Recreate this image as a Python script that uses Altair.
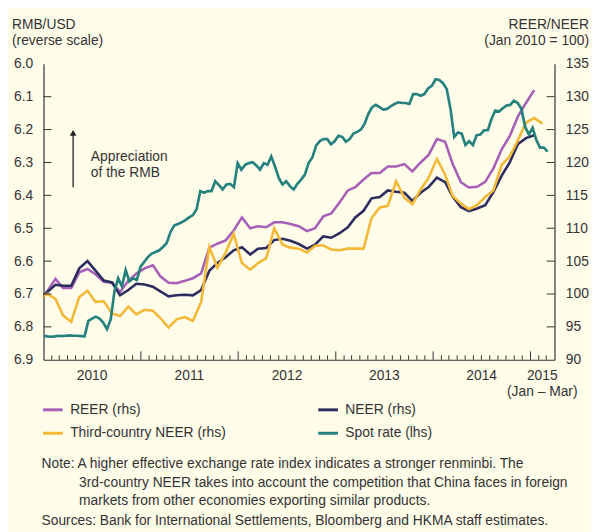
import altair as alt
import pandas as pd

# ---------------- data ----------------
month_start = "2009-12-01"   # monthly indices, plotted at mid-month, Dec 2009 ..
reer = [98.7, 100.4, 102.3, 100.9, 100.9, 103.3, 103.8, 103.0, 101.85, 101.7, 100.3,
        102.0, 103.1, 103.9, 104.35, 102.7, 101.7, 101.65, 102.0, 102.4, 103.15,
        107.05, 107.65, 108.15, 109.65, 111.65, 110.0, 110.3, 110.15, 110.9, 110.9,
        110.65, 110.3, 109.55, 110.0, 111.8, 112.25, 113.9, 115.75, 116.25, 117.4,
        118.4, 118.4, 119.4, 119.4, 119.75, 118.65, 120.0, 121.15, 123.55, 123.15,
        119.8, 117.0, 116.2, 116.3, 117.05, 119.1, 122.0, 124.0, 127.0, 129.05, 131.0]
neer = [98.8, 100.3, 101.4, 101.25, 101.25, 103.9, 105.0, 103.55, 102.05, 101.75, 99.8,
        100.6, 101.55, 101.45, 101.1, 100.4, 99.65, 99.8, 99.9, 99.8, 100.6,
        103.55, 104.7, 105.6, 106.65, 107.1, 106.0, 106.9, 107.0, 108.2, 108.4,
        108.1, 107.6, 106.9, 107.5, 108.75, 108.55, 109.25, 110.15, 111.65, 112.65,
        114.55, 114.75, 115.75, 115.55, 115.4, 114.15, 115.4, 116.25, 117.7, 117.0,
        114.8, 113.2, 112.6, 113.0, 113.5, 115.5, 118.0, 120.0, 122.8, 123.7, 124.15]
third = [99.1, 100.0, 99.25, 96.75, 95.75, 99.55, 100.5, 98.8, 98.9, 97.05, 96.65,
         98.1, 96.9, 97.6, 97.45, 96.35, 94.9, 96.15, 96.5, 95.9, 98.8,
         107.15, 104.0, 106.3, 109.15, 104.7, 103.7, 104.7, 105.4, 110.0, 107.5,
         107.05, 106.9, 106.3, 107.35, 107.4, 106.75, 106.65, 106.9, 106.9, 106.9,
         111.55, 113.15, 113.4, 117.15, 114.65, 113.65, 115.9, 117.65, 120.55, 118.15,
         114.9, 113.75, 112.9, 113.55, 114.75, 115.75, 119.65, 120.9, 123.4, 126.05,
         126.75, 125.9]

spot_start = "2010-01-01"    # RMB/USD spot, read every 14 days
spot = [6.827, 6.829, 6.830, 6.829, 6.827, 6.828, 6.827, 6.826, 6.827, 6.827,
        6.828, 6.829, 6.782, 6.775, 6.769, 6.775, 6.787, 6.807, 6.777, 6.692,
        6.652, 6.677, 6.627, 6.662, 6.652, 6.657, 6.617, 6.602, 6.587, 6.577,
        6.572, 6.567, 6.557, 6.545, 6.512, 6.492, 6.487, 6.482, 6.475, 6.467,
        6.460, 6.442, 6.387, 6.392, 6.387, 6.387, 6.357, 6.369, 6.382, 6.367,
        6.365, 6.375, 6.302, 6.322, 6.307, 6.302, 6.299, 6.309, 6.322, 6.302,
        6.307, 6.282, 6.312, 6.347, 6.367, 6.357, 6.372, 6.382, 6.365, 6.352,
        6.337, 6.302, 6.285, 6.249, 6.235, 6.229, 6.229, 6.245, 6.235, 6.219,
        6.222, 6.237, 6.229, 6.212, 6.207, 6.200, 6.182, 6.152, 6.132, 6.125,
        6.132, 6.139, 6.137, 6.129, 6.122, 6.117, 6.119, 6.119, 6.122, 6.092,
        6.092, 6.097, 6.092, 6.075, 6.067, 6.047, 6.049, 6.059, 6.077, 6.137,
        6.222, 6.209, 6.212, 6.247, 6.235, 6.247, 6.217, 6.215, 6.202, 6.202,
        6.167, 6.142, 6.145, 6.135, 6.127, 6.125, 6.112, 6.119, 6.137, 6.192,
        6.215, 6.195, 6.232, 6.255, 6.255, 6.267]

series_names = ["REER (rhs)", "NEER (rhs)", "Third-country NEER (rhs)", "Spot rate (lhs)"]
series_colors = ["#a75fb7", "#2c2d5e", "#f3b835", "#25817d"]

year_labels = ["2010", "2011", "2012", "2013", "2014", "2015\n(Jan \u2013 Mar)"]
year_label_dates = ["2010-07-02", "2011-07-02", "2012-07-02", "2013-07-02",
                    "2014-07-02", "2015-02-14"]
left_ticks = [6.0, 6.1, 6.2, 6.3, 6.4, 6.5, 6.6, 6.7, 6.8, 6.9]
right_ticks = [90, 95, 100, 105, 110, 115, 120, 125, 130, 135]
x_start, x_end = "2010-01-01", "2015-04-01"

note_lines = [
    "Note: A higher effective exchange rate index indicates a stronger renminbi. The",
    "3rd-country NEER takes into account the competition that China faces in foreign",
    "markets from other economies exporting similar products.",
]
sources = "Sources: Bank for International Settlements, Bloomberg and HKMA staff estimates."

# ---------------- tables ----------------
def mid_months(n):
    base = pd.Timestamp(month_start)
    return [(base + pd.DateOffset(months=i) + pd.Timedelta(days=14)).strftime("%Y-%m-%d")
            for i in range(n)]

rows = []
for name, vals in zip(series_names[:3], [reer, neer, third]):
    for d, v in zip(mid_months(len(vals)), vals):
        rows.append({"date": d, "value": v, "series": name})
monthly = pd.DataFrame(rows)

spot_df = pd.DataFrame({
    "date": pd.date_range(spot_start, periods=len(spot), freq="14D").strftime("%Y-%m-%d"),
    "spot": spot,
    "series": series_names[3],
})

month_ticks = pd.date_range(x_start, "2015-03-01", freq="MS")
minor_df = pd.DataFrame({"date": [d.strftime("%Y-%m-%d") for d in month_ticks if d.month != 1]})
major_df = pd.DataFrame({"date": [d.strftime("%Y-%m-%d") for d in month_ticks
                                  if d.month == 1 and d.year > 2010]})
ylab_df = pd.DataFrame({"date": year_label_dates, "label": year_labels})
lt_df = pd.DataFrame({"v": left_ticks[1:-1]})
rt_df = pd.DataFrame({"v": right_ticks[1:-1]})
one = pd.DataFrame({"a": [0]})

def ms(s):
    return int(pd.Timestamp(s).timestamp() * 1000)

FONT = "Liberation Sans"
FS = 14
TXT = "#333333"
W, H = 518, 300

x_axis = alt.Axis(labels=False, ticks=False, grid=False, title=None,
                  domainColor=TXT, domainWidth=1.2)
def xenc(field="date"):
    return alt.X(f"{field}:T", scale=alt.Scale(domain=[ms(x_start), ms(x_end)]), axis=x_axis)

left_scale = alt.Scale(domain=[6.0, 6.9], reverse=True, nice=False, zero=False)
right_scale = alt.Scale(domain=[90, 135], nice=False, zero=False)

legend = alt.Legend(orient="none", legendX=-2, legendY=339, columns=2, direction="horizontal",
                    title=None, symbolType="stroke", symbolSize=400, symbolStrokeWidth=3,
                    labelFont=FONT, labelFontSize=FS, labelColor=TXT,
                    columnPadding=87, rowPadding=5, labelOffset=6, labelLimit=400)
color = alt.Color("series:N", scale=alt.Scale(domain=series_names, range=series_colors),
                  legend=legend)

lines = alt.Chart(monthly).mark_line(strokeWidth=2.6, clip=True).encode(
    x=xenc(),
    y=alt.Y("value:Q", scale=right_scale,
            axis=alt.Axis(orient="right", values=right_ticks, ticks=False, grid=False,
                          title=None, labelPadding=11, labelFontSize=FS, labelColor=TXT,
                          labelFont=FONT, domainColor=TXT, domainWidth=1.2,
                          labelAlign="left")),
    color=color,
    detail="series:N",
)

spot_line = alt.Chart(spot_df).mark_line(strokeWidth=2.7, clip=True).encode(
    x=xenc(),
    y=alt.Y("spot:Q", scale=left_scale,
            axis=alt.Axis(orient="left", values=left_ticks, format=".1f", ticks=False,
                          grid=False, title=None, labelPadding=11, labelFontSize=FS,
                          labelColor=TXT, labelFont=FONT, domainColor=TXT,
                          domainWidth=1.2)),
    color=color,
)

left_tick_rules = alt.Chart(lt_df).mark_rule(color=TXT, strokeWidth=1).encode(
    y=alt.Y("v:Q", scale=left_scale, axis=None), x=alt.value(0), x2=alt.value(8))
right_tick_rules = alt.Chart(rt_df).mark_rule(color=TXT, strokeWidth=1).encode(
    y=alt.Y("v:Q", scale=right_scale, axis=None), x=alt.value(W - 8), x2=alt.value(W))
minor_rules = alt.Chart(minor_df).mark_rule(color=TXT, strokeWidth=1).encode(
    x=xenc(), y=alt.value(H - 4.5), y2=alt.value(H))
major_rules = alt.Chart(major_df).mark_rule(color=TXT, strokeWidth=1).encode(
    x=xenc(), y=alt.value(H - 8.5), y2=alt.value(H))

year_text = alt.Chart(ylab_df).mark_text(
    font=FONT, fontSize=FS, color=TXT, baseline="top", align="center",
    lineBreak="\n", lineHeight=16).encode(
    x=xenc(), y=alt.value(H + 10), text="label:N")

def text_layer(txt, x, y, align="left", size=FS):
    return alt.Chart(one).mark_text(
        font=FONT, fontSize=size, color=TXT, align=align, baseline="middle",
        lineBreak="\n").encode(x=alt.value(x), y=alt.value(y), text=alt.value(txt))

texts = [
    text_layer("RMB/USD", -32, -39.5),
    text_layer("(reverse scale)", -32, -23.5),
    text_layer("REER/NEER", 553, -39.5, align="right"),
    text_layer("(Jan 2010 = 100)", 553, -23.5, align="right"),
    text_layer("Appreciation", 48, 94),
    text_layer("of the RMB", 48, 111),
    text_layer(note_lines[0], -2, 406),
    text_layer(note_lines[1], 36, 425),
    text_layer(note_lines[2], 36, 443),
    text_layer(sources, -2, 464),
]

arrow_shaft = alt.Chart(one).mark_rule(color="#222222", strokeWidth=1.3).encode(
    x=alt.value(30), y=alt.value(72), y2=alt.value(125))
arrow_head = alt.Chart(one).mark_point(shape="triangle-up", filled=True, size=45,
                                       color="#222222", opacity=1).encode(
    x=alt.value(30), y=alt.value(70))

chart = alt.layer(
    lines, spot_line, left_tick_rules, right_tick_rules, minor_rules, major_rules,
    year_text, arrow_shaft, arrow_head, *texts
).resolve_scale(y="independent").properties(
    width=W, height=H,
    autosize=alt.AutoSizeParams(type="none"),
    padding={"left": 36, "top": 53, "right": 37, "bottom": 171},
).configure(background="#fffcea").configure_view(stroke=None)

chart.save("out.html", embed_options={"renderer": "svg", "actions": False})
